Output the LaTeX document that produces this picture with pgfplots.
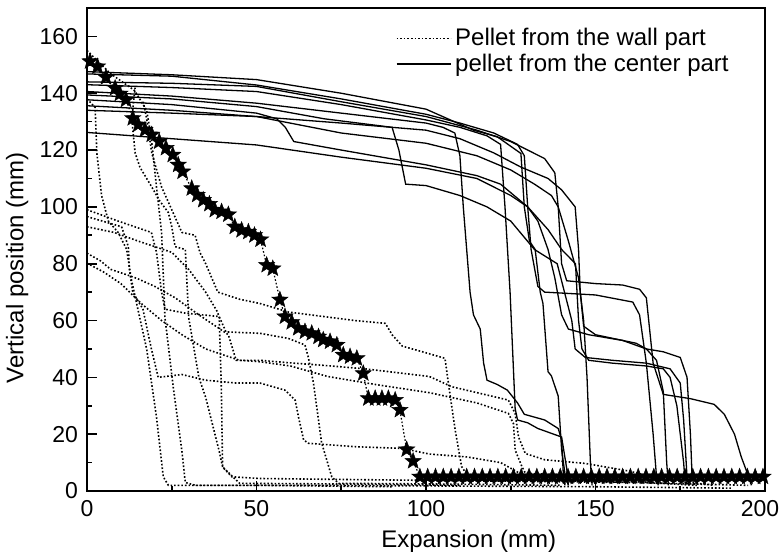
\documentclass[border=0pt]{standalone}
\usepackage{fontspec}
\setmainfont{Liberation Sans}
\usepackage{pgfplots}
\pgfplotsset{compat=1.18}
\pgfdeclareplotmark{fstar}{%
  \pgfpathmoveto{\pgfpointpolar{90}{\pgfplotmarksize}}%
  \pgfpathlineto{\pgfpointpolar{126}{0.42\pgfplotmarksize}}%
  \pgfpathlineto{\pgfpointpolar{162}{\pgfplotmarksize}}%
  \pgfpathlineto{\pgfpointpolar{198}{0.42\pgfplotmarksize}}%
  \pgfpathlineto{\pgfpointpolar{234}{\pgfplotmarksize}}%
  \pgfpathlineto{\pgfpointpolar{270}{0.42\pgfplotmarksize}}%
  \pgfpathlineto{\pgfpointpolar{306}{\pgfplotmarksize}}%
  \pgfpathlineto{\pgfpointpolar{342}{0.42\pgfplotmarksize}}%
  \pgfpathlineto{\pgfpointpolar{18}{\pgfplotmarksize}}%
  \pgfpathlineto{\pgfpointpolar{54}{0.42\pgfplotmarksize}}%
  \pgfpathclose\pgfusepathqfillstroke}
\begin{document}
\begin{tikzpicture}
\begin{axis}[
  scale only axis, width=339pt, height=241.5pt,
  xmin=0, xmax=200, ymin=0, ymax=170,
  xtick={0,50,100,150,200}, minor xtick={25,75,125,175},
  xticklabels={0,50,100,150,{\makebox[0pt]{200\hspace{5pt}}}},
  ytick={0,20,...,160}, minor ytick={10,30,...,150},
  tick pos=left, tick align=inside,
  major tick length=5pt, minor tick length=2.5pt,
  axis line style={line width=1pt},
  every tick/.style={black, line width=0.8pt},
  /pgf/number format/assume math mode=true,
  tick label style={font=\fontsize{11.5}{13}\selectfont},
  xticklabel style={yshift=-1pt},
  yticklabel style={xshift=-1pt},
  xlabel={Expansion (mm)}, ylabel={Vertical position (mm)},
  label style={font=\fontsize{12}{14}\selectfont},
  xlabel style={at={(axis description cs:0.563,-0.105)}, anchor=center},
  ylabel style={at={(axis description cs:-0.103,0.462)}, anchor=center},
  legend style={at={(axis description cs:0.455,0.967)}, anchor=north west, draw=none, fill=none,
    font=\fontsize{12}{13}\selectfont, inner sep=0pt, row sep=-1.5pt},
  legend cell align=left,
  legend image code/.code={\draw[#1] (0pt,0pt) -- (27pt,0pt);},
  every axis plot/.append style={black, line width=0.65pt},
  wall/.style={line width=0.8pt, dash pattern=on 0.8pt off 1.0pt},
]
\addlegendimage{wall, line width=0.5pt}
\addlegendentry{Pellet from the wall part}
\addlegendimage{solid}
\addlegendentry{pellet from the center part}
% center part
\addplot[forget plot] coordinates {(0,147.6)(25,146.5)(50,144.8)(75,140)(100,134.4)(114,127)(121,124.7)(128,118.8)(129,100)(130.5,88)(132.2,85)(133.7,70)(134.5,66)(136,42)(137,40.5)(139,33.4)(140,14.6)(141,6)(142,2)};
\addplot[forget plot] coordinates {(0,146.8)(25,146)(50,142.9)(75,138)(100,132.6)(110,129.5)(120,126)(127,122)(129,118)(130,100)(131,85)(133,72)(135,70)(150,69)(161,66.5)(163,62)(165,45)(167,20)(168,5)(168.5,2)};
\addplot[forget plot] coordinates {(0,144)(25,143.5)(50,142.4)(75,137)(100,131.8)(115,127)(125,123)(135,117)(138,112)(139,100)(140,80)(141.5,74)(150,73)(158,72.5)(163,71)(165,68)(167,45)(170,34)(178,32.5)(185,30.5)(188,27)(191,20)(193,12)(195.5,4)(196,2)};
\addplot[forget plot] coordinates {(0,143)(25,142)(50,140.6)(75,136)(100,130.6)(110,128)(118,125)(122,122)(123.3,100)(124.8,70)(126.3,29)(127,25)(130,24)(133,22)(140,19)(141.5,8)(142,2)};
\addplot[forget plot] coordinates {(0,140.6)(25,139)(50,136.5)(75,133)(100,129.5)(105,128)(108.5,126)(110,118)(111,100)(112,85)(113,70)(114,62)(116,57)(117,45)(118,39)(121,37.5)(124,35.5)(127,31)(129,27)(135,25)(139,22)(140,18)(140.5,6)(141,2)};
\addplot[forget plot] coordinates {(0,139.4)(25,138)(50,135.3)(70,131)(90,128)(92,120)(94,108)(100,107.5)(110,104)(118,100)(125,95)(132,85)(138.7,80)(143,60)(144,50)(147,47)(155,46)(165,45)(172,43)(175,38)(176,25)(177,5)(177.5,2)};
\addplot[forget plot] coordinates {(0,137.7)(25,136)(50,133)(56,131)(58.5,128)(61,123)(75,120)(100,114.8)(115,111)(122,108)(126,104)(130,100)(136,92)(140,85)(144.1,80)(145,60)(146,50)(148,46)(155,45)(165,44)(170,43)(172,40)(174,30)(176,10)(176.5,2)};
\addplot[forget plot] coordinates {(0,135.6)(25,134)(50,131.8)(75,126)(100,122.4)(115,118)(125,113)(132,108)(137,104)(139,100)(142,88)(145,75)(146.5,60)(147.5,40)(148.5,10)(149,2)};
\addplot[forget plot] coordinates {(0,134)(25,133)(50,131.8)(75,129.5)(100,127)(110,124)(120,119)(128,114)(136,110)(140,106)(144,100)(145,85)(145.5,70)(146.5,58)(150,55)(158,53)(162,52)(165,50)(170,49)(175,47)(177,40)(178,20)(178.5,5)(179,2)};
\addplot[forget plot] coordinates {(0,126.2)(25,124)(50,121.8)(75,117.5)(100,113.6)(115,110)(125,104)(130,100)(133,95)(136,85)(138,75)(140,62)(142,57)(148,55)(158,53)(165,50)(168,46)(170,35)(171,10)(171.5,2)};
% wall part
\addplot[wall, forget plot] coordinates {(0,155)(6.8,147)(14,141)(17.6,134)(19,124)(20.5,107)(22,91)(23,61)(25.5,36)(28,14)(29,3)(32,2)(60,2)(100,1.8)(150,1.5)(190,1)};
\addplot[wall, forget plot] coordinates {(0,138)(2.4,135)(2.9,119)(4.3,104)(6.3,95)(9.2,91)(11.7,85)(13,75)(15,64)(17.6,50)(20.5,26)(22.5,5)(24,2)(50,2)(90,1.5)};
\addplot[wall, forget plot] coordinates {(14.2,142)(13.2,131)(14.2,119)(15.6,114)(19.1,107)(21.5,102)(24,98)(25,93)(26,86)(29,85)(30,61)(32,47)(33,40)(35,33)(39,14)(40,8.5)(42.7,5)(51,4.4)(80,4)(120,3.5)(160,3)};
\addplot[wall, forget plot] coordinates {(16.6,137)(17.6,131)(19.1,119)(22,107)(25,99)(28,91)(31.9,90)(33.3,84)(35,80)(38.6,70)(45,67.5)(51,66)(59.4,63)(79,60)(88,59)(90,55)(93,51)(101,48.3)(105.6,46.7)(106.6,38)(108.6,21.5)(110.5,8.6)(112.5,5)(130,4)(160,3)(195,2)};
\addplot[wall, forget plot] coordinates {(0,99)(9.2,95)(19,91)(20.5,84)(22,70)(23,64)(29,62.6)(39,61.4)(41,56)(51,55.5)(59.4,53.7)(64.3,51.4)(65.3,47)(66.8,38)(69.2,17)(72.2,5)(74.2,2.7)(100,2.5)(140,2)};
\addplot[wall, forget plot] coordinates {(0,96.6)(10.2,93)(12.2,86)(12.5,78)(13.5,70)(16.5,64)(19,50)(21,40)(28,41)(35,39)(44,38)(51,38)(58.4,35.5)(61.4,32)(62.4,26)(63.9,18)(65.3,16.8)(79,15.6)(93,15)(101,13)(112,12)(122,10)(128,6)(135,4)(170,3)};
\addplot[wall, forget plot] coordinates {(0,83.7)(4,81)(7,78)(12,76)(15,74.7)(20,72)(26,68)(33,62)(38,58)(41.7,55)(44,46)(51,46)(61,45)(69,44.3)(82,43)(101,40.3)(107.6,36.7)(124.3,32)(126.3,27.3)(127.3,19)(129.3,13.2)(135,11)(147,9.7)(160,7)(170,4)(185,2)};
\addplot[wall, forget plot] coordinates {(0,80.2)(5,77)(10,73)(16,66)(22,60)(28,55)(35,50)(40,48)(45,46)(51,45.5)(60,44)(71,40.3)(85,37.5)(101,34.6)(115,31)(124.3,27.3)(125.8,23.7)(126.3,14.4)(128.3,8.6)(129.3,6.3)(150,5)(165,3)(180,2)};
\addplot[wall, forget plot] coordinates {(0,93)(8,91)(15,88)(20,86)(25,84)(30,78)(35,70)(38.5,63)(39,61)(39.6,38)(40,8.5)(45,2.7)(70,2.5)(110,2)};
% stars
\addplot[wall, line width=0.6pt, forget plot, mark=fstar, mark size=4.3pt, mark options={solid, fill=black, line width=0.2pt}] coordinates {
(0.9,151.2)(3.1,149.4)(5.6,145.6)(8.3,141.8)(9.7,139.8)(11.5,137.7)(13.5,131.2)(15.1,128.9)(17.1,127.1)(19.1,125.4)(21.3,123)(23.3,120.7)(25.3,118.3)(26.9,114.8)(28.2,112.4)(30.9,106.5)(32.5,104.2)(34.3,102.4)(36.1,101)(37.7,98.9)(39.7,98.3)(41.7,97.3)(43.6,93)(45.6,91.8)(47.6,91.2)(49.4,90)(51.2,88.5)(53,79.5)(54.8,78.3)(56.9,67.3)(58.4,61.4)(60.4,59.4)(62.3,57.3)(64.3,56.1)(66.3,55.5)(68.3,54.3)(69.7,53.2)(71.7,52.6)(73.7,51.4)(75.6,47.9)(77.6,47.3)(79.6,46.7)(81.5,41.4)(83,32.6)(85,32.6)(87,32.6)(88.9,32.6)(90.9,32)(92.3,28.5)(94.3,14.6)(96.2,10.5)(98.2,5)
(100.5,5)(102.8,5)(105.1,5)(107.4,5)(109.7,5)(112.0,5)(114.3,5)(116.6,5)(118.9,5)(121.2,5)(123.5,5)(125.8,5)(128.1,5)(130.4,5)(132.7,5)(135.0,5)(137.3,5)(139.6,5)(141.9,5)(144.2,5)(146.5,5)(148.8,5)(151.1,5)(153.4,5)(155.7,5)(158.0,5)(160.3,5)(162.6,5)(164.9,5)(167.2,5)(169.5,5)(171.8,5)(174.1,5)(176.4,5)(178.7,5)(181.0,5)(183.3,5)(185.6,5)(187.9,5)(190.2,5)(192.5,5)(194.8,5)(197.1,5)(199.4,5)};
\end{axis}
\pgfresetboundingbox
\path[use as bounding box] (-43.5pt,-33.5pt) rectangle (347.5pt,245.5pt);
\end{tikzpicture}
\end{document}
